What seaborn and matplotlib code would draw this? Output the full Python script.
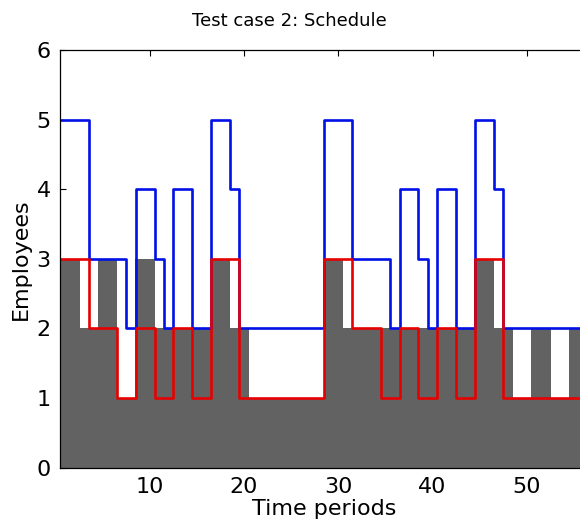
import matplotlib
matplotlib.use("Agg")
import matplotlib.pyplot as plt
import pandas as pd
import seaborn as sns

# ---- data ----
periods = list(range(1, 57))
scheduled = [3, 3, 2, 2, 3, 3, 1, 1, 3, 3, 2, 2, 2, 2, 2, 2, 3, 3, 2, 2,
             1, 1, 1, 1, 1, 1, 1, 1,
             3, 3, 2, 2, 2, 2, 2, 2, 2, 2, 2, 2, 2, 2, 2, 2, 3, 3, 2, 2,
             1, 1, 2, 2, 1, 1, 2, 2]
upper = [5, 5, 5, 3, 3, 3, 3, 2, 4, 4, 3, 2, 4, 4, 2, 2, 5, 5, 4, 2,
         2, 2, 2, 2, 2, 2, 2, 2,
         5, 5, 5, 3, 3, 3, 3, 2, 4, 4, 3, 2, 4, 4, 2, 2, 5, 5, 4, 2,
         2, 2, 2, 2, 2, 2, 2, 2]
lower = [3, 3, 3, 2, 2, 2, 1, 1, 2, 2, 1, 1, 2, 2, 1, 1, 3, 3, 3, 1,
         1, 1, 1, 1, 1, 1, 1, 1,
         3, 3, 3, 2, 2, 2, 1, 1, 2, 2, 1, 1, 2, 2, 1, 1, 3, 3, 3, 1,
         1, 1, 1, 1, 1, 1, 1, 1]
xticks = [10, 20, 30, 40, 50]
yticks = [0, 1, 2, 3, 4, 5, 6]

bars = pd.DataFrame({"period": periods, "employees": scheduled})
edges = [p - 0.5 for p in periods] + [periods[-1] + 0.5]
steps = pd.DataFrame({
    "edge": edges,
    "upper": upper + [upper[-1]],
    "lower": lower + [lower[-1]],
})

W, H = 580, 527
fig = plt.figure(figsize=(W / 100, H / 100), dpi=100)
left, right, top, bottom = 60.3, 588.0, 50.0, 467.7
ax = fig.add_axes([left / W, 1 - bottom / H, (right - left) / W, (bottom - top) / H])

sns.barplot(data=bars, x="period", y="employees", native_scale=True,
            width=1.1, color="#626262", saturation=1, errorbar=None,
            linewidth=0, edgecolor="none", ax=ax, zorder=1)
sns.lineplot(data=steps, x="edge", y="upper", drawstyle="steps-post",
             color="#0010e6", linewidth=1.9, estimator=None, ax=ax, zorder=3)
sns.lineplot(data=steps, x="edge", y="lower", drawstyle="steps-post",
             color="#e60000", linewidth=1.9, estimator=None, ax=ax, zorder=3)

ax.set_xlim(0.5, 56.5)
ax.set_ylim(0, 6)
ax.set_xticks(xticks)
ax.set_xticklabels([str(t) for t in xticks])
ax.set_yticks(yticks)
ax.set_yticklabels([str(t) for t in yticks])
ax.set_axisbelow(True)
ax.tick_params(direction="in", length=4, width=0.8, top=True, right=True,
               labelsize=16, pad=7, colors="black")
for s in ax.spines.values():
    s.set_linewidth(0.9)
    s.set_color("black")
    s.set_zorder(5)

ax.set_title("Test case 2: Schedule", fontsize=13, pad=17, x=0.435)
ax.set_xlabel("Time periods", fontsize=16, labelpad=1)
ax.set_ylabel("Employees", fontsize=16, labelpad=4)

fig.savefig("out.png", dpi=100)
